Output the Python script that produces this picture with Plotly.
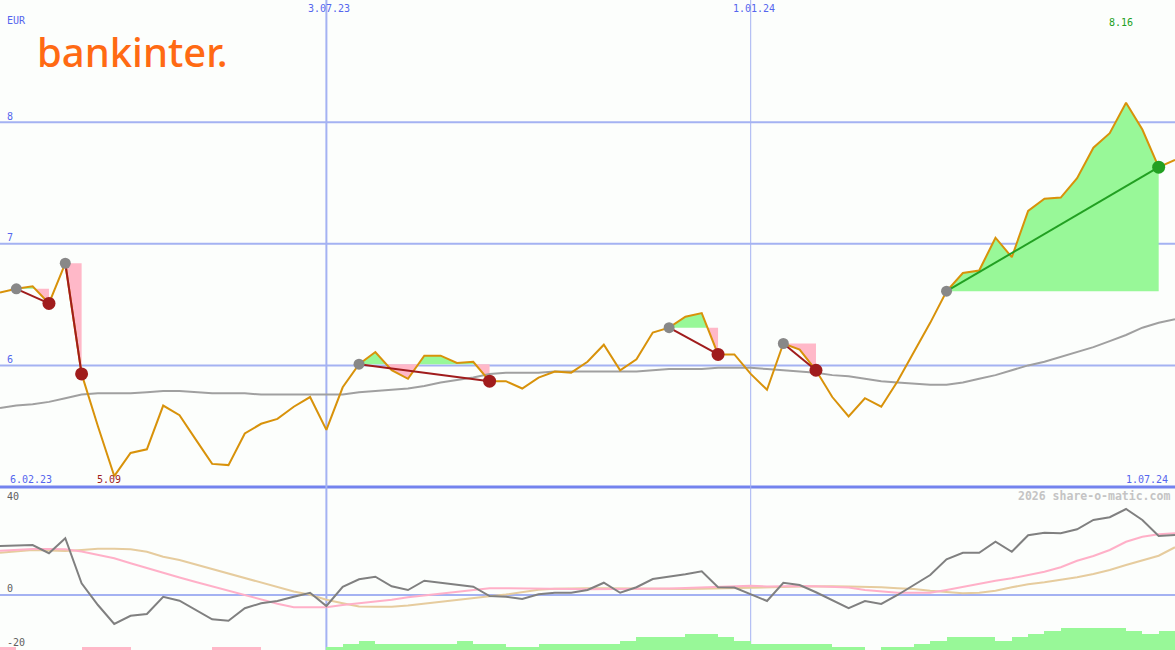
import pandas as pd
import plotly.graph_objects as go

# ---------------- data (weekly, Mondays) ----------------
start_date = "2023-02-13"
n_weeks = 73
dates = pd.date_range(start_date, periods=n_weeks, freq="7D")

price = [6.60, 6.63, 6.65, 6.51, 6.84, 5.93, 5.50, 5.09, 5.28, 5.31,
         5.67, 5.59, 5.39, 5.19, 5.18, 5.44, 5.52, 5.56, 5.66, 5.74,
         5.47, 5.82, 6.01, 6.11, 5.96, 5.89, 6.08, 6.08, 6.02, 6.03,
         5.87, 5.87, 5.81, 5.90, 5.95, 5.94, 6.03, 6.17, 5.96, 6.05,
         6.27, 6.31, 6.40, 6.43, 6.09, 6.09, 5.93, 5.80, 6.18, 6.13,
         5.96, 5.74, 5.58, 5.73, 5.66, 5.87, 6.11, 6.35, 6.61, 6.76,
         6.78, 7.05, 6.89, 7.27, 7.37, 7.38, 7.54, 7.79, 7.91, 8.16,
         7.94, 7.63, 7.69]

moving_avg = [5.65, 5.67, 5.68, 5.70, 5.73, 5.76, 5.77, 5.77, 5.77, 5.78,
              5.79, 5.79, 5.78, 5.77, 5.77, 5.77, 5.76, 5.76, 5.76, 5.76,
              5.76, 5.76, 5.78, 5.79, 5.80, 5.81, 5.83, 5.86, 5.88, 5.90,
              5.93, 5.94, 5.94, 5.94, 5.95, 5.95, 5.95, 5.95, 5.95, 5.95,
              5.96, 5.97, 5.97, 5.97, 5.98, 5.98, 5.98, 5.97, 5.96, 5.95,
              5.94, 5.92, 5.91, 5.89, 5.87, 5.86, 5.85, 5.84, 5.84, 5.86,
              5.89, 5.92, 5.96, 6.00, 6.03, 6.07, 6.11, 6.15, 6.20, 6.25,
              6.31, 6.35, 6.38]

oscillator = [19.6, 19.9, 20.0, 16.7, 22.7, 4.7, -4.0, -11.6, -8.3, -7.6,
              -0.7, -2.3, -6.0, -9.7, -10.3, -5.3, -3.3, -2.4, -0.7, 0.9,
              -4.4, 3.3, 6.3, 7.3, 3.5, 2.0, 5.7, 4.9, 4.0, 3.3,
              -0.4, -0.7, -1.6, 0.3, 0.9, 0.9, 2.0, 4.9, 0.9, 3.1,
              6.4, 7.3, 8.3, 9.5, 3.1, 3.0, 0.3, -2.4, 4.9, 4.0,
              1.1, -2.1, -5.3, -2.4, -3.6, 0.0, 4.0, 8.0, 14.3, 16.9,
              16.9, 21.3, 17.3, 23.9, 24.9, 24.7, 26.3, 30.0, 31.1, 34.4,
              30.0, 23.6, 24.0]

signal = [17.7, 18.1, 18.4, 18.4, 18.3, 17.4, 16.0, 14.7, 12.7, 10.7,
          8.7, 7.0, 5.2, 3.4, 1.6, -0.1, -2.0, -3.5, -4.9, -4.9,
          -4.9, -4.0, -3.4, -2.6, -1.9, -0.9, -0.2, 0.4, 1.2, 2.0,
          2.7, 2.7, 2.7, 2.6, 2.5, 2.4, 2.3, 2.3, 2.3, 2.4,
          2.5, 2.6, 2.8, 3.0, 3.3, 3.5, 3.7, 3.4, 3.6, 3.6,
          3.5, 3.3, 3.0, 2.0, 1.3, 0.9, 0.9, 0.9, 2.0, 3.3,
          4.7, 5.7, 6.7, 8.0, 9.3, 11.1, 13.7, 15.6, 18.0, 21.3,
          23.3, 24.3, 24.7]

slow_line = [16.9, 17.5, 18.0, 17.8, 17.6, 18.0, 18.5, 18.5, 18.3, 17.3,
             15.3, 14.0, 12.2, 10.4, 8.6, 6.7, 5.0, 3.2, 1.4, 0.1,
             -1.9, -3.3, -4.6, -4.7, -4.7, -4.2, -3.4, -2.6, -2.0, -1.2,
             -0.5, 0.2, 1.1, 2.1, 2.5, 2.7, 2.7, 2.7, 2.6, 2.5,
             2.4, 2.3, 2.4, 2.5, 2.6, 2.8, 3.0, 3.1, 3.2, 3.4,
             3.6, 3.5, 3.4, 3.3, 3.1, 2.7, 2.4, 1.7, 1.1, 0.7,
             0.9, 1.7, 3.1, 4.3, 5.1, 6.0, 7.1, 8.4, 10.0, 12.0,
             14.0, 15.7, 19.1]

histogram = [-1, 0, 0, 0, 0, -1, -1, -1, 0, 0,
             0, 0, 0, -1, -1, -1, 0, 0, 0, 0,
             1, 2, 3, 2, 2, 2, 2, 2, 3, 2,
             2, 1, 1, 2, 2, 2, 2, 2, 3, 4,
             4, 4, 5, 5, 4, 3, 2, 2, 2, 2,
             2, 1, 1, 0, 1, 1, 2, 3, 4, 4,
             4, 3, 4, 5, 6, 7, 7, 7, 7, 6,
             5, 6, 6]

entry_dates = ["2023-02-20", "2023-03-13", "2023-07-17", "2023-11-27", "2024-01-15", "2024-03-25"]
exit_dates = ["2023-03-06", "2023-03-20", "2023-09-11", "2023-12-18", "2024-01-29", "2024-06-24"]

grid_levels = [6, 7, 8]
gridline_dates = ["2023-07-03", "2024-01-01"]
gridline_labels = ["3.07.23", "1.01.24"]
range_labels = ["6.02.23", "1.07.24"]
lower_tick_values = [40, 0, -20]

for arr in (price, moving_avg, oscillator, signal, slow_line, histogram):
    assert len(arr) == n_weeks, len(arr)

# ---------------- styles ----------------
W, H = 1175, 650
BG = "#fcfefc"
GRID = "#a4b2f2"
GRID_DARK = "#7383ee"
BLUE_TXT = "#5566ee"
ORANGE = "#d8920a"
GRAY_MA = "#a0a0a0"
FILL_GREEN = "#98f898"
FILL_PINK = "#ffb8c8"
LOSS = "#a01c1c"
GAIN = "#22a022"
MONO = "DejaVu Sans Mono"

main_bottom_px = 489          # top of lower panel (px from top)
px_per_unit = 121.6           # main panel scale
main_dom = [(H - main_bottom_px) / H, 1]
low_dom = [0, (H - main_bottom_px) / H]
main_range = [5 - 2 / px_per_unit, 5 + 487 / px_per_unit]
low_range = [-22, -22 + (H - main_bottom_px) / 2.5]
bar_range = [0, (H - main_bottom_px) / 3.15]

fig = go.Figure()

# ---------- lower panel: histogram bars (y2) ----------
fig.add_trace(go.Bar(
    x=dates, y=[abs(v) for v in histogram],
    marker=dict(color=[FILL_GREEN if v > 0 else FILL_PINK for v in histogram], line=dict(width=0)),
    width=7 * 86400000, offset=0,
    xaxis="x2", yaxis="y2", hoverinfo="skip", showlegend=False))

# ---------- lower panel lines (y3) ----------
for series, col in ((slow_line, "#e6cc9e"), (signal, "#ffb0c8"), (oscillator, "#808080")):
    fig.add_trace(go.Scatter(x=dates, y=series, mode="lines",
                             line=dict(color=col, width=2),
                             xaxis="x2", yaxis="y3", hoverinfo="skip", showlegend=False))

# ---------- trade shading ----------
def split_at_level(xs, ys, level):
    X, Y = [xs[0]], [ys[0]]
    for k in range(1, len(xs)):
        y0, y1 = ys[k - 1], ys[k]
        if (y0 - level) * (y1 - level) < 0:
            t = (level - y0) / (y1 - y0)
            X.append(xs[k - 1] + (xs[k] - xs[k - 1]) * t)
            Y.append(level)
        X.append(xs[k])
        Y.append(y1)
    return X, Y

idx_of = {d: i for i, d in enumerate(dates)}
trades = []
for ed, xd in zip(entry_dates, exit_dates):
    trades.append((idx_of[pd.Timestamp(ed)], idx_of[pd.Timestamp(xd)]))

for i0, i1 in trades:
    L = price[i0]
    X, Y = split_at_level(list(dates[i0:i1 + 1]), price[i0:i1 + 1], L)
    up = [max(v, L) for v in Y]
    dn = [min(v, L) for v in Y]
    for vals, col in ((up, FILL_GREEN), (dn, FILL_PINK)):
        fig.add_trace(go.Scatter(x=X, y=[L] * len(X), mode="lines", line=dict(width=0),
                                 hoverinfo="skip", showlegend=False))
        fig.add_trace(go.Scatter(x=X, y=vals, mode="lines", line=dict(width=0),
                                 fill="tonexty", fillcolor=col,
                                 hoverinfo="skip", showlegend=False))

# ---------- moving average & price ----------
fig.add_trace(go.Scatter(x=dates, y=moving_avg, mode="lines",
                         line=dict(color=GRAY_MA, width=2), hoverinfo="skip", showlegend=False))
fig.add_trace(go.Scatter(x=dates, y=price, mode="lines",
                         line=dict(color=ORANGE, width=2), hoverinfo="skip", showlegend=False))

# ---------- trade lines & markers ----------
for i0, i1 in trades:
    col = GAIN if price[i1] > price[i0] else LOSS
    fig.add_trace(go.Scatter(x=[dates[i0], dates[i1]], y=[price[i0], price[i1]], mode="lines",
                             line=dict(color=col, width=2), hoverinfo="skip", showlegend=False))
for i0, i1 in trades:
    col = GAIN if price[i1] > price[i0] else LOSS
    fig.add_trace(go.Scatter(x=[dates[i0]], y=[price[i0]], mode="markers",
                             marker=dict(color="#888888", size=11, line=dict(width=0)),
                             hoverinfo="skip", showlegend=False))
    fig.add_trace(go.Scatter(x=[dates[i1]], y=[price[i1]], mode="markers",
                             marker=dict(color=col, size=13, line=dict(width=0)),
                             hoverinfo="skip", showlegend=False))

# ---------- shapes (grid) ----------
shapes = []
for lv in grid_levels:
    shapes.append(dict(type="line", xref="paper", x0=0, x1=1, yref="y", y0=lv, y1=lv,
                       line=dict(color=GRID, width=2), layer="below"))
shapes.append(dict(type="line", xref="paper", x0=0, x1=1, yref="y", y0=5, y1=5,
                   line=dict(color=GRID_DARK, width=3), layer="below"))
shapes.append(dict(type="line", xref="paper", x0=0, x1=1, yref="y3", y0=0, y1=0,
                   line=dict(color=GRID, width=2), layer="below"))
for d, w in zip(gridline_dates, (2, 1)):
    shapes.append(dict(type="line", xref="x", x0=d, x1=d, yref="paper", y0=0, y1=1,
                       line=dict(color=GRID, width=w), layer="below"))

# ---------- text ----------
def px_ann(text, x, y, xanchor="left", color=BLUE_TXT, size=10, family=MONO, **kw):
    return dict(text=text, xref="paper", yref="paper", x=x / W, y=1 - y / H,
                xanchor=xanchor, yanchor="middle", showarrow=False,
                font=dict(family=family, size=size, color=color), **kw)

anns = []
anns.append(px_ann("EUR", 5, 20))
for lv in grid_levels:
    ypx = 487 - (lv - 5) * px_per_unit - 6
    anns.append(px_ann(str(lv), 5, ypx))
for d, lab in zip(gridline_dates, gridline_labels):
    anns.append(dict(text=lab, xref="x", x=d, yref="paper", y=1 - 9 / H, xanchor="center",
                     yanchor="middle", showarrow=False, xshift=3,
                     font=dict(family=MONO, size=10, color=BLUE_TXT)))
anns.append(px_ann(range_labels[0], 8, 479))
anns.append(px_ann(range_labels[1], 1170, 479, xanchor="right"))
imin = price.index(min(price))
imax = price.index(max(price))
anns.append(dict(text=f"{price[imin]:.2f}", xref="x", x=dates[imin], yref="paper", y=1 - 479 / H,
                 xanchor="center", yanchor="middle", showarrow=False, xshift=-5,
                 font=dict(family=MONO, size=10, color=LOSS)))
anns.append(dict(text=f"{price[imax]:.2f}", xref="x", x=dates[imax], yref="paper", y=1 - 22 / H,
                 xanchor="center", yanchor="middle", showarrow=False, xshift=-5,
                 font=dict(family=MONO, size=10, color=GAIN)))
anns.append(px_ann("<b>2026 share-o-matic.com</b>", 1172, 496, xanchor="right",
                   color="#c4c4c4", size=11.5))
for v, ypx in zip(lower_tick_values, (496, 588, 642)):
    anns.append(px_ann(str(v), 5, ypx, color="#606060"))
anns.append(dict(text="bankinter.", xref="paper", yref="paper", x=35 / W, y=1 - 51 / H,
                 xanchor="left", yanchor="middle", showarrow=False,
                 font=dict(family="Noto Sans", size=40, color="#ff6a13", weight=500)))

fig.update_layout(
    width=W, height=H, margin=dict(l=0, r=0, t=0, b=0),
    paper_bgcolor=BG, plot_bgcolor=BG, showlegend=False, bargap=0,
    xaxis=dict(type="date", range=[dates[0], dates[-1]], visible=False, domain=[0, 1], anchor="y"),
    xaxis2=dict(type="date", matches="x", visible=False, domain=[0, 1], anchor="y2"),
    yaxis=dict(domain=main_dom, range=main_range, visible=False, anchor="x"),
    yaxis2=dict(domain=low_dom, range=bar_range, visible=False, anchor="x2"),
    yaxis3=dict(range=low_range, visible=False, overlaying="y2", anchor="x2"),
    shapes=shapes, annotations=anns,
)

fig.write_html("out.html", config=dict(displayModeBar=False),
               post_script="document.body.style.margin='0';document.body.style.overflow='hidden';")
